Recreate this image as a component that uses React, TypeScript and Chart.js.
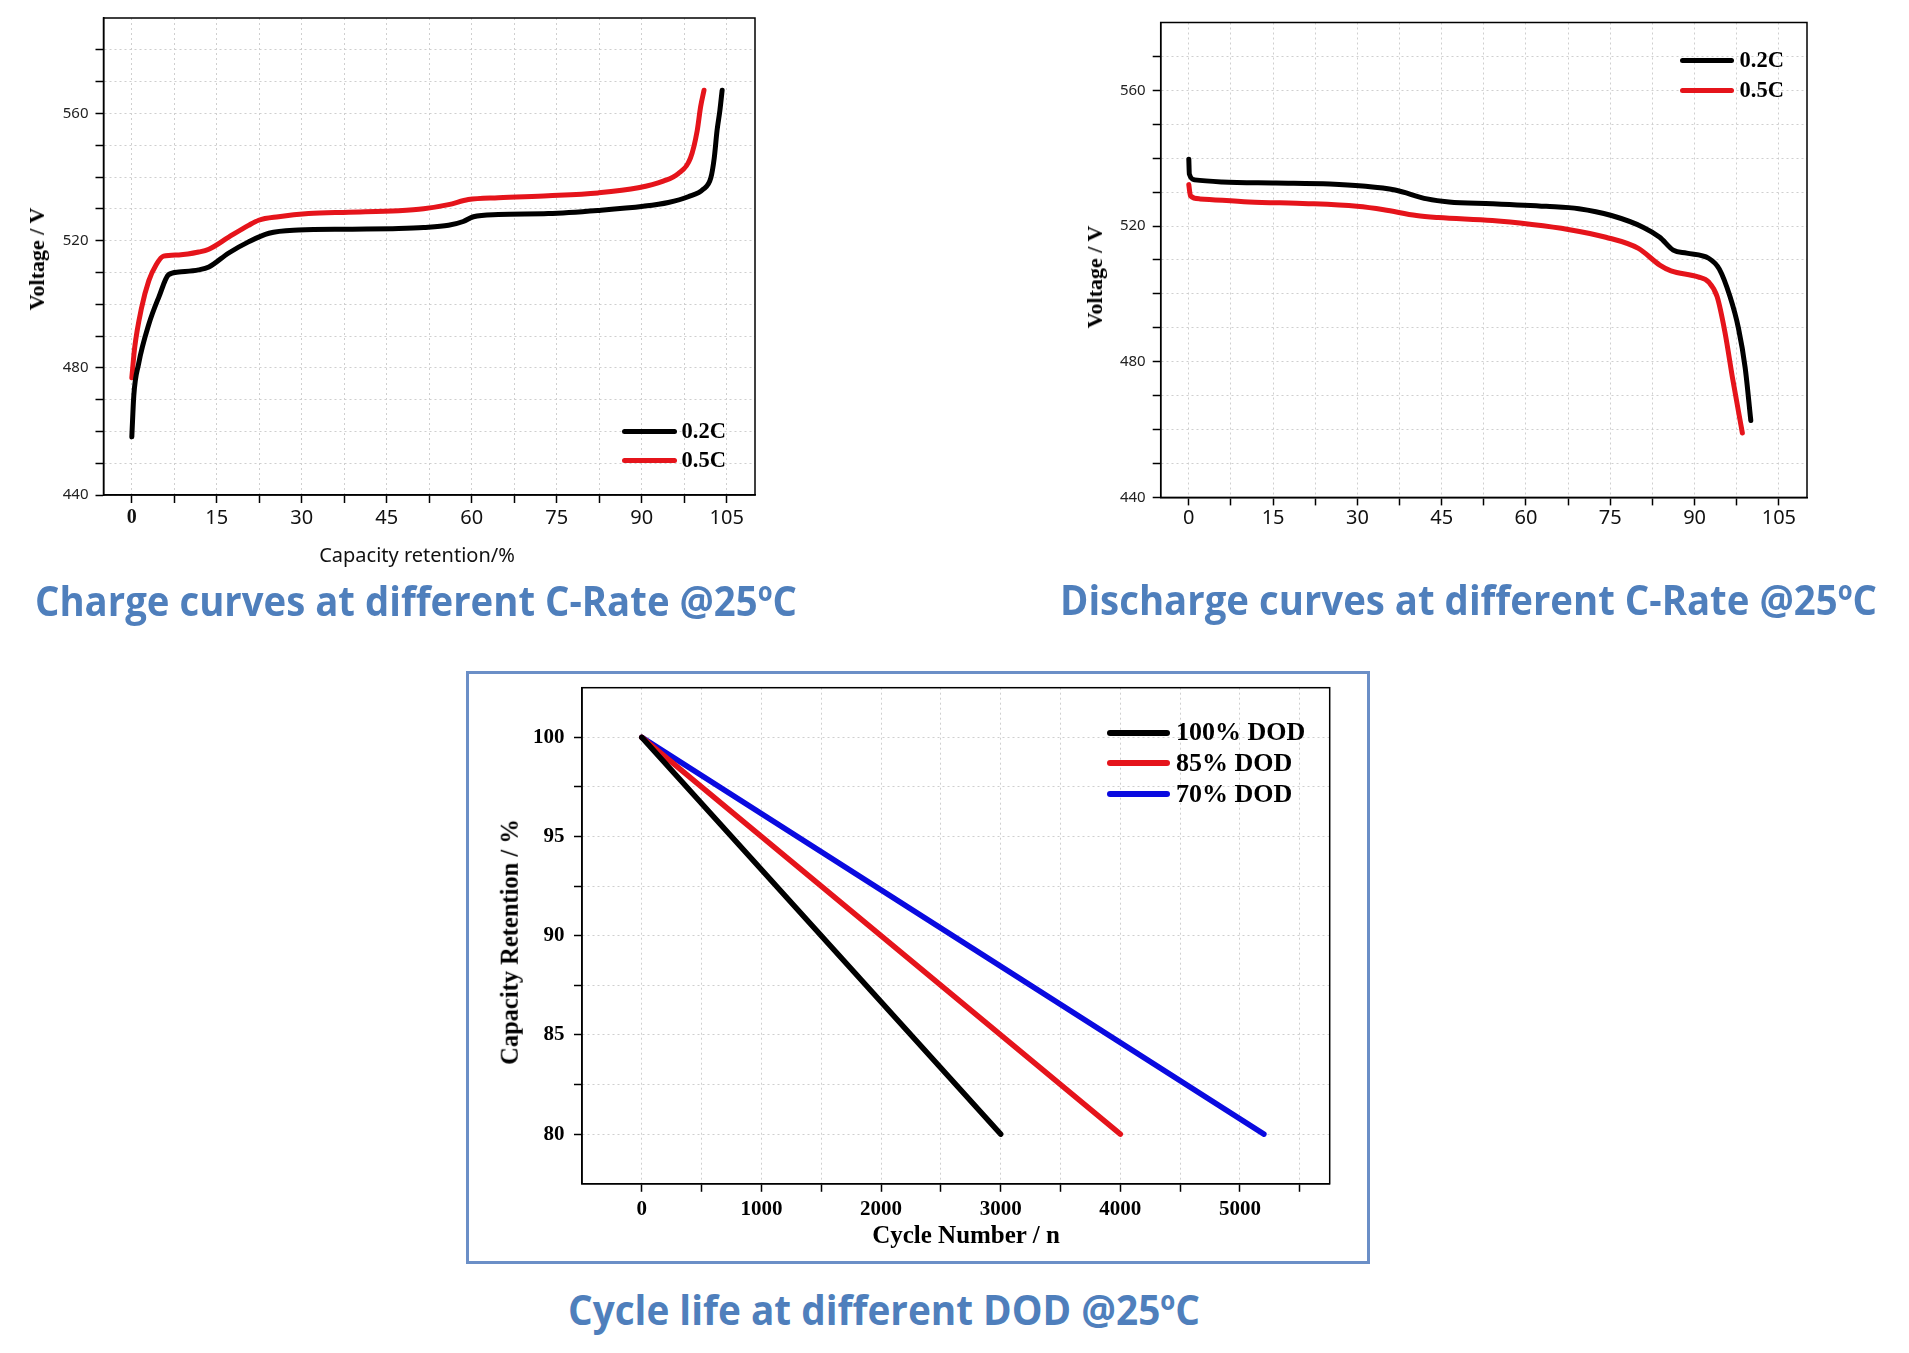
import React, { useEffect, useLayoutEffect, useRef } from "react";
import { Chart, registerables } from "chart.js";

Chart.register(...registerables);

// ---------------- data ----------------
const rateNames = ["0.2C", "0.5C"];
const dodNames = ["100% DOD", "85% DOD", "70% DOD"];

// Charge curves (capacity retention %, voltage V)
const chargeX02 = [0, 0.35, 1.2, 3.0, 4.8, 6.5, 8.3, 11.8, 13.6, 17.1, 20.6, 24.2, 29.4, 38.3, 47.1, 51.5, 55.9, 58.5, 60.3, 64.7, 73.5, 82.3, 90.3, 94.7, 98.2, 100.9, 102.2, 102.8, 103.3, 103.8, 104.2];
const chargeV02 = [458.3, 471.3, 481.3, 493.7, 502.4, 509.3, 510.1, 510.8, 511.7, 516.1, 519.6, 522.3, 523.3, 523.6, 523.8, 524.1, 524.8, 526.0, 527.5, 528.2, 528.5, 529.5, 530.8, 532.0, 533.8, 536.2, 539.7, 545.9, 554.6, 560.9, 567.3];
const chargeX05 = [0, 0.5, 1.7, 3.0, 4.3, 5.6, 8.3, 11.8, 13.6, 17.1, 20.6, 22.4, 25.9, 31.2, 38.3, 47.1, 51.5, 55.9, 59.4, 64.7, 73.5, 82.3, 89.4, 93.8, 96.4, 98.6, 99.8, 100.4, 101.0];
const chargeV05 = [476.9, 486.3, 498.7, 507.4, 512.4, 515.1, 515.5, 516.4, 517.3, 521.1, 524.8, 526.4, 527.5, 528.5, 528.9, 529.4, 530.0, 531.3, 532.9, 533.5, 534.1, 535.0, 536.6, 538.7, 541.0, 545.9, 554.6, 562.1, 567.3];

// Discharge curves
const dischX02 = [0, 0.1, 1.06, 5.9, 15.5, 25.1, 30.9, 36.7, 42.4, 46.3, 54.0, 63.6, 69.4, 75.2, 80.9, 83.8, 86.2, 88.6, 92.5, 94.4, 96.3, 97.8, 99.0, 100.0];
const dischV02 = [539.7, 535.3, 533.6, 533.0, 532.7, 532.4, 531.8, 530.6, 528.0, 527.1, 526.6, 525.8, 525.1, 523.1, 519.6, 516.7, 512.9, 512.0, 510.5, 507.3, 499.2, 489.9, 478.2, 462.7];
const dischX05 = [0, 0.3, 2.0, 10.7, 21.3, 29.9, 34.7, 40.5, 44.4, 54.0, 60.7, 67.5, 74.2, 80.0, 83.8, 85.8, 90.6, 92.5, 94.0, 95.4, 96.8, 98.5];
const dischV05 = [532.2, 528.9, 528.0, 527.1, 526.6, 525.8, 524.8, 523.1, 522.5, 521.6, 520.5, 519.0, 516.7, 513.4, 508.5, 506.8, 505.0, 503.5, 499.2, 488.7, 474.7, 459.0];

// Cycle life
const cycles100 = [0, 3000];
const retention100 = [100, 80];
const cycles85 = [0, 4000];
const retention85 = [100, 80];
const cycles70 = [0, 5200];
const retention70 = [100, 80];

// Tick values
const capGridTicks = [0, 7.5, 15, 22.5, 30, 37.5, 45, 52.5, 60, 67.5, 75, 82.5, 90, 97.5, 105];
const capLabelTicks = [0, 15, 30, 45, 60, 75, 90, 105];
const voltGridTicksCharge = [440, 450, 460, 470, 480, 490, 500, 510, 520, 530, 540, 550, 560, 570, 580];
const voltGridTicksDisch = [440, 450, 460, 470, 480, 490, 500, 510, 520, 530, 540, 550, 560, 570];
const voltLabelTicks = [440, 480, 520, 560];
const cycleGridTicks = [0, 500, 1000, 1500, 2000, 2500, 3000, 3500, 4000, 4500, 5000, 5500];
const cycleLabelTicks = [0, 1000, 2000, 3000, 4000, 5000];
const retGridTicks = [80, 82.5, 85, 87.5, 90, 92.5, 95, 97.5, 100];
const retLabelTicks = [80, 85, 90, 95, 100];

// ---------------- styling ----------------
const RED = "#e5141b";
const BLACK = "#000000";
const BLUE = "#0a0ae0";
const TITLE_BLUE = "#4f7fbc";
const SERIF = "'Liberation Serif', 'Times New Roman', serif";
const SANS = "'Noto Sans', 'Open Sans', sans-serif";

const toXY = (xs: number[], ys: number[]) => xs.map((x, i) => ({ x, y: ys[i] }));

const framePlugin = {
  id: "frame",
  afterDatasetsDraw(chart: any) {
    const { ctx, chartArea: a } = chart;
    ctx.save();
    ctx.strokeStyle = "#000";
    ctx.lineWidth = 1.5;
    ctx.strokeRect(a.left, a.top, a.right - a.left, a.bottom - a.top);
    ctx.restore();
  },
};

type Geo = { w: number; h: number; left: number; top: number; right: number; bottom: number };
type AxisSpec = {
  min: number;
  max: number;
  grid: number[];
  labels: number[];
  font: any;
  color: string;
  pad: number;
};

function lineDataset(label: string, xs: number[], ys: number[], color: string, width: number, smooth: boolean) {
  return {
    label,
    data: toXY(xs, ys),
    borderColor: color,
    backgroundColor: color,
    borderWidth: width,
    pointRadius: 0,
    fill: false,
    borderCapStyle: "round",
    borderJoinStyle: "round",
    cubicInterpolationMode: smooth ? "monotone" : "default",
    tension: 0,
  };
}

function makeConfig(datasets: any[], geo: Geo, xs: AxisSpec, ys: AxisSpec) {
  const gridCommon = {
    color: "#cfcfcf",
    lineWidth: 1,
    drawTicks: true,
    tickLength: 8,
    tickColor: "#000",
    tickWidth: 1.5,
    tickBorderDash: [],
  };
  const borderCommon = { display: true, color: "#000", width: 1.5, dash: [2, 3] };
  return {
    type: "line",
    data: { datasets },
    options: {
      responsive: false,
      animation: false,
      devicePixelRatio: 1,
      events: [],
      layout: { padding: { left: 0, top: geo.top, right: geo.w - geo.right, bottom: 0 } },
      plugins: { legend: { display: false }, tooltip: { enabled: false }, title: { display: false } },
      scales: {
        x: {
          type: "linear",
          position: "bottom",
          min: xs.min,
          max: xs.max,
          afterBuildTicks: (s: any) => {
            s.ticks = xs.grid.map((v) => ({ value: v }));
          },
          afterFit: (s: any) => {
            s.height = geo.h - geo.bottom;
            s.paddingLeft = 0;
            s.paddingRight = 0;
            s.paddingTop = 0;
            s.paddingBottom = 0;
          },
          ticks: {
            autoSkip: false,
            maxRotation: 0,
            minRotation: 0,
            padding: xs.pad,
            font: xs.font,
            color: xs.color,
            callback: (v: any) => (xs.labels.includes(Number(v)) ? String(v) : ""),
          },
          grid: gridCommon,
          border: borderCommon,
        },
        y: {
          type: "linear",
          position: "left",
          min: ys.min,
          max: ys.max,
          afterBuildTicks: (s: any) => {
            s.ticks = ys.grid.map((v) => ({ value: v }));
          },
          afterFit: (s: any) => {
            s.width = geo.left;
            s.paddingLeft = 0;
            s.paddingRight = 0;
            s.paddingTop = 0;
            s.paddingBottom = 0;
          },
          ticks: {
            autoSkip: false,
            padding: ys.pad,
            font: ys.font,
            color: ys.color,
            callback: (v: any) => (ys.labels.includes(Number(v)) ? String(v) : ""),
          },
          grid: gridCommon,
          border: borderCommon,
        },
      },
    },
    plugins: [framePlugin],
  };
}

function ChartCanvas({ config, left, top, w, h }: { config: any; left: number; top: number; w: number; h: number }) {
  const ref = useRef<HTMLCanvasElement>(null);
  useEffect(() => {
    const chart = new Chart(ref.current as HTMLCanvasElement, config);
    return () => chart.destroy();
  }, []);
  return (
    <canvas
      ref={ref}
      width={w}
      height={h}
      style={{ position: "absolute", left, top, width: w, height: h }}
    />
  );
}

function FitTitle({ text, left, baseline, width, fontSize }: { text: string; left: number; baseline: number; width: number; fontSize: number }) {
  const ref = useRef<HTMLSpanElement>(null);
  useLayoutEffect(() => {
    const fit = () => {
      const el = ref.current;
      if (!el) return;
      el.style.transform = "none";
      const w = el.getBoundingClientRect().width;
      if (w > 0) el.style.transform = `scaleX(${width / w})`;
    };
    fit();
    if ((document as any).fonts && (document as any).fonts.ready) (document as any).fonts.ready.then(fit);
  }, []);
  return (
    <span
      ref={ref}
      style={{
        position: "absolute",
        left,
        top: baseline - 0.888 * fontSize,
        fontFamily: "'Open Sans', 'Noto Sans', sans-serif",
        fontWeight: 700,
        fontSize,
        lineHeight: `${fontSize}px`,
        color: TITLE_BLUE,
        whiteSpace: "nowrap",
        transformOrigin: "left top",
      }}
    >
      {text}
    </span>
  );
}

function AxisTitle({ text, cx, cy, rotate, font, size, weight, color }: { text: string; cx: number; cy: number; rotate: boolean; font: string; size: number; weight: number; color: string }) {
  return (
    <div
      style={{
        position: "absolute",
        left: cx,
        top: cy,
        transform: `translate(-50%, -50%)${rotate ? " rotate(-90deg)" : ""}`,
        fontFamily: font,
        fontSize: size,
        fontWeight: weight,
        lineHeight: `${size}px`,
        color,
        whiteSpace: "nowrap",
      }}
    >
      {text}
    </div>
  );
}

function Legend({ names, colors, x1, x2, ys, tx, fs, lw }: { names: string[]; colors: string[]; x1: number; x2: number; ys: number[]; tx: number; fs: number; lw: number }) {
  return (
    <>
      {names.map((n, i) => (
        <React.Fragment key={n}>
          <div
            style={{
              position: "absolute",
              left: x1,
              top: ys[i] - lw / 2,
              width: x2 - x1,
              height: lw,
              borderRadius: lw / 2,
              background: colors[i],
            }}
          />
          <span
            style={{
              position: "absolute",
              left: tx,
              top: ys[i] - 0.507 * fs,
              fontFamily: SERIF,
              fontWeight: 700,
              fontSize: fs,
              lineHeight: `${fs}px`,
              color: "#000",
              whiteSpace: "nowrap",
            }}
          >
            {n}
          </span>
        </React.Fragment>
      ))}
    </>
  );
}

// ---------------- configs ----------------
const geoCharge: Geo = { w: 780, h: 580, left: 103.5, top: 18, right: 755, bottom: 495 };
const geoDisch: Geo = { w: 849, h: 580, left: 100.7, top: 22.5, right: 747, bottom: 497.4 };
const geoCycle: Geo = { w: 890, h: 580, left: 112, top: 12.7, right: 859.7, bottom: 508.8 };

const capAxis = (pad: number, serifZero: boolean): AxisSpec => ({
  min: -5,
  max: 110,
  grid: capGridTicks,
  labels: capLabelTicks,
  font: serifZero
    ? (ctx: any) =>
        ctx.tick && ctx.tick.value === 0
          ? { family: SERIF, size: 20, weight: "bold" }
          : { family: SANS, size: 20 }
    : { family: SANS, size: 20 },
  color: "#111",
  pad,
});

const chargeConfig = makeConfig(
  [
    lineDataset(rateNames[0], chargeX02, chargeV02, BLACK, 5, true),
    lineDataset(rateNames[1], chargeX05, chargeV05, RED, 5, true),
  ],
  geoCharge,
  capAxis(3, true),
  { min: 440, max: 590, grid: voltGridTicksCharge, labels: voltLabelTicks, font: { family: SANS, size: 15 }, color: "#222", pad: 7 }
);

const dischConfig = makeConfig(
  [
    lineDataset(rateNames[0], dischX02, dischV02, BLACK, 5, true),
    lineDataset(rateNames[1], dischX05, dischV05, RED, 5, true),
  ],
  geoDisch,
  capAxis(1, false),
  { min: 440, max: 580, grid: voltGridTicksDisch, labels: voltLabelTicks, font: { family: SANS, size: 15 }, color: "#222", pad: 7 }
);

const cycleConfig = makeConfig(
  [
    lineDataset(dodNames[0], cycles100, retention100, BLACK, 5.5, false),
    lineDataset(dodNames[1], cycles85, retention85, RED, 5.5, false),
    lineDataset(dodNames[2], cycles70, retention70, BLUE, 5.5, false),
  ],
  geoCycle,
  { min: -500, max: 5750, grid: cycleGridTicks, labels: cycleLabelTicks, font: { family: SERIF, size: 21, weight: "bold" }, color: "#000", pad: 5.5 },
  { min: 77.5, max: 102.5, grid: retGridTicks, labels: retLabelTicks, font: { family: SERIF, size: 21, weight: "bold" }, color: "#000", pad: 9.5 }
);

export default function App() {
  return (
    <div
      style={{
        position: "absolute",
        left: 0,
        top: 0,
        width: 1909,
        height: 1353,
        background: "#fff",
        overflow: "hidden",
      }}
    >
      {/* Chart 1: charge */}
      <ChartCanvas config={chargeConfig} left={0} top={0} w={geoCharge.w} h={geoCharge.h} />
      <AxisTitle text="Voltage / V" cx={37} cy={259} rotate font={SERIF} size={22} weight={700} color="#000" />
      <AxisTitle text="Capacity retention/%" cx={417} cy={555} rotate={false} font={SANS} size={20} weight={400} color="#111" />
      <Legend names={rateNames} colors={[BLACK, RED]} x1={622} x2={677} ys={[431, 460.7]} tx={681.6} fs={22.5} lw={5} />
      <FitTitle text="Charge curves at different C-Rate @25ºC" left={35} baseline={616.5} width={762} fontSize={42} />

      {/* Chart 2: discharge */}
      <ChartCanvas config={dischConfig} left={1060} top={0} w={geoDisch.w} h={geoDisch.h} />
      <AxisTitle text="Voltage / V" cx={1095} cy={277} rotate font={SERIF} size={22} weight={700} color="#000" />
      <Legend names={rateNames} colors={[BLACK, RED]} x1={1680} x2={1734} ys={[60, 90]} tx={1739.5} fs={22.5} lw={5} />
      <FitTitle text="Discharge curves at different C-Rate @25ºC" left={1060} baseline={615} width={817} fontSize={42} />

      {/* Chart 3: cycle life */}
      <div
        style={{
          position: "absolute",
          left: 466,
          top: 671,
          width: 904,
          height: 593,
          border: "3px solid #6b8fc7",
          boxSizing: "border-box",
        }}
      />
      <ChartCanvas config={cycleConfig} left={470} top={675} w={geoCycle.w} h={geoCycle.h} />
      <AxisTitle text="Capacity Retention / %" cx={510} cy={942} rotate font={SERIF} size={24.5} weight={700} color="#000" />
      <AxisTitle text="Cycle Number / n" cx={966} cy={1234} rotate={false} font={SERIF} size={25} weight={700} color="#000" />
      <Legend names={dodNames} colors={[BLACK, RED, BLUE]} x1={1107} x2={1170} ys={[732.6, 763.4, 794.2]} tx={1176} fs={26} lw={6} />
      <FitTitle text="Cycle life at different DOD @25ºC" left={568} baseline={1325} width={632} fontSize={42} />
    </div>
  );
}
